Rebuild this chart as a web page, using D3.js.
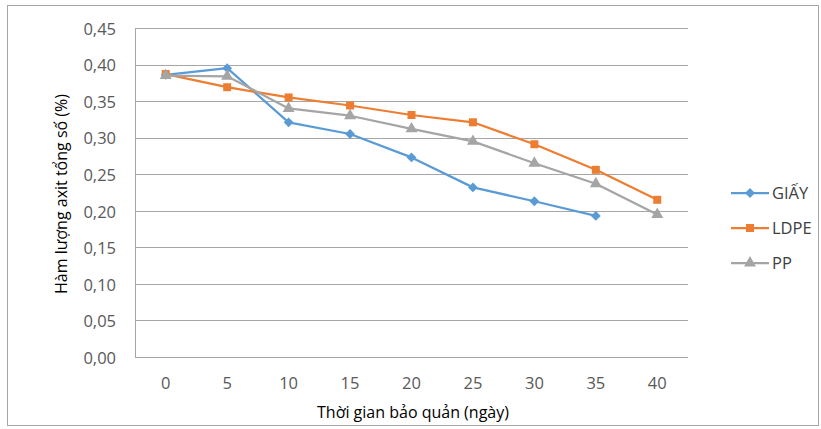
<!DOCTYPE html>
<html>
<head>
<meta charset="utf-8">
<script src="https://cdn.jsdelivr.net/npm/d3@7"></script>
<style>
  html, body { margin: 0; padding: 0; background: #fff; }
  svg { display: block; }
  text { font-family: "Open Sans", Lato, sans-serif; }
</style>
</head>
<body>
<svg id="chart" width="821" height="429"></svg>
<script>
// Storage time (days)
const days = [0, 5, 10, 15, 20, 25, 30, 35, 40];
const yTicks = [0, 0.05, 0.10, 0.15, 0.20, 0.25, 0.30, 0.35, 0.40, 0.45];

// Total acid content (%) by packaging type
const giay = [0.386, 0.395, 0.321, 0.305, 0.273, 0.232, 0.213, 0.193, null];
const ldpe = [0.387, 0.369, 0.355, 0.344, 0.331, 0.321, 0.291, 0.256, 0.215];
const pp   = [0.385, 0.384, 0.340, 0.330, 0.312, 0.295, 0.265, 0.237, 0.195];

const seriesNames = ["GIẤY", "LDPE", "PP"];
const seriesColors = ["#5b9bd5", "#ed7d31", "#a5a5a5"];
// diamond = square turned 45 degrees
const seriesShapes = [d3.symbolSquare, d3.symbolSquare, d3.symbolTriangle];
const seriesRotate = [45, 0, 0];
const seriesSizes = [48, 64, 62];
const seriesValues = [giay, ldpe, pp];

const svg = d3.select("#chart");
const W = 821, H = 429;
const plot = { left: 135, top: 28, right: 688, bottom: 357 };
const FONT = "'Open Sans', Lato, sans-serif";

// outer frame
svg.append("rect")
  .attr("x", 7.5).attr("y", 5.5)
  .attr("width", W - 10).attr("height", H - 9)
  .attr("fill", "#fff").attr("stroke", "#a6a6a6").attr("stroke-width", 1);

const x = d3.scaleBand().domain(days).range([plot.left, plot.right]);
const y = d3.scaleLinear().domain([0, 0.45]).range([plot.bottom, plot.top]);
const fmt = v => d3.format(".2f")(v).replace(".", ",");

// horizontal gridlines
svg.append("g").selectAll("line").data(yTicks).join("line")
  .attr("x1", plot.left).attr("x2", plot.right)
  .attr("y1", d => Math.round(y(d)) + 0.5).attr("y2", d => Math.round(y(d)) + 0.5)
  .attr("stroke", "#a6a6a6").attr("stroke-width", 1);

// y axis line
svg.append("line")
  .attr("x1", plot.left + 0.5).attr("x2", plot.left + 0.5)
  .attr("y1", plot.top).attr("y2", plot.bottom + 0.5)
  .attr("stroke", "#a6a6a6");

// y axis tick labels
const yAxis = d3.axisLeft(y).tickValues(yTicks).tickFormat(fmt).tickSize(0).tickPadding(19);
const gy = svg.append("g").attr("transform", `translate(${plot.left},1)`).call(yAxis);
gy.select(".domain").remove();
gy.selectAll("text").attr("font-size", 16.5).attr("fill", "#595959")
  .style("font-family", FONT);

// x axis tick labels
const xAxis = d3.axisBottom(x).tickSize(0).tickPadding(20);
const gx = svg.append("g").attr("transform", `translate(0,${plot.bottom})`).call(xAxis);
gx.select(".domain").remove();
gx.selectAll("text").attr("font-size", 16.5).attr("fill", "#595959")
  .style("font-family", FONT);

// axis titles
svg.append("text")
  .attr("x", 413).attr("y", 418)
  .attr("text-anchor", "middle").attr("font-size", 16).attr("fill", "#000")
  .text("Thời gian bảo quản (ngày)");
svg.append("text")
  .attr("transform", `translate(67,194) rotate(-90)`)
  .attr("text-anchor", "middle").attr("font-size", 16).attr("fill", "#000")
  .text("Hàm lượng axit tổng số (%)");

// series lines and markers
const cx = d => x(d) + x.bandwidth() / 2;
const line = d3.line()
  .defined(d => d.v != null)
  .x(d => cx(d.day)).y(d => y(d.v));

seriesValues.forEach((vals, i) => {
  const pts = days.map((day, j) => ({ day, v: vals[j] }));
  svg.append("path").datum(pts)
    .attr("d", line).attr("fill", "none")
    .attr("stroke", seriesColors[i]).attr("stroke-width", 2.25)
    .attr("stroke-linejoin", "round");
  svg.append("g").selectAll("path").data(pts.filter(p => p.v != null)).join("path")
    .attr("transform", p => `translate(${cx(p.day)},${y(p.v)}) rotate(${seriesRotate[i]})`)
    .attr("d", d3.symbol().type(seriesShapes[i]).size(seriesSizes[i]))
    .attr("fill", seriesColors[i]);
});

// legend
const legend = svg.append("g");
seriesNames.forEach((name, i) => {
  const ly = 193 + i * 35;
  legend.append("line")
    .attr("x1", 731).attr("x2", 769).attr("y1", ly).attr("y2", ly)
    .attr("stroke", seriesColors[i]).attr("stroke-width", 2.25);
  legend.append("path")
    .attr("transform", `translate(750,${ly}) rotate(${seriesRotate[i]})`)
    .attr("d", d3.symbol().type(seriesShapes[i]).size(seriesSizes[i]))
    .attr("fill", seriesColors[i]);
  legend.append("text")
    .attr("x", 772).attr("y", ly + 6)
    .attr("font-size", 16.5).attr("fill", "#404040")
    .text(name);
});
</script>
</body>
</html>
